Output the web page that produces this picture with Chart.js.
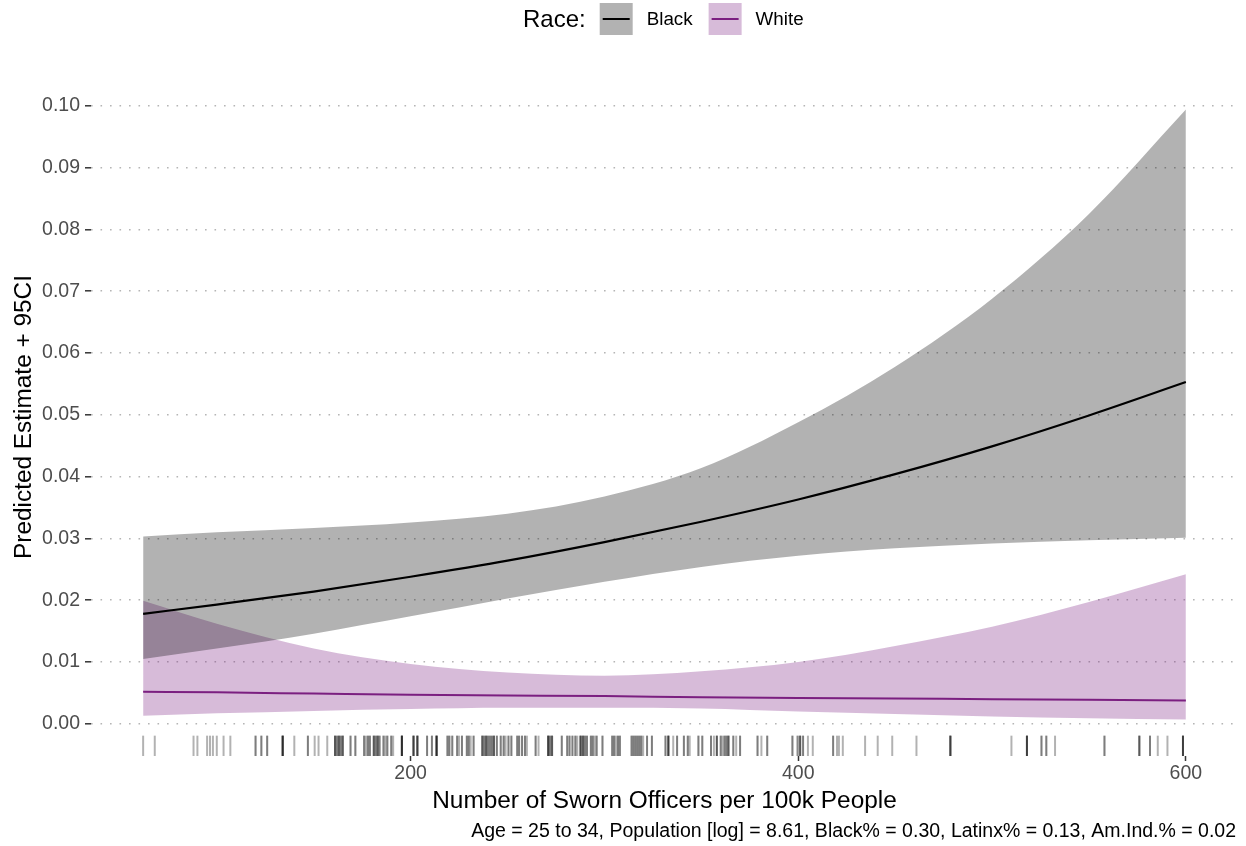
<!DOCTYPE html>
<html>
<head>
<meta charset="utf-8">
<script src="https://cdn.jsdelivr.net/npm/chart.js@4/dist/chart.umd.min.js"></script>
<style>
  html, body { margin: 0; padding: 0; background: #ffffff; }
  #wrap { width: 1246px; height: 846px; }
</style>
</head>
<body>
<div id="wrap"><canvas id="chart" width="1246" height="846"></canvas></div>
<script>
// Predicted estimates with 95% confidence band, by race
const officers = [62, 100, 150, 200, 250, 300, 350, 400, 450, 500, 550, 600];

const blackEstimate = [0.0178, 0.0193, 0.0214, 0.0238, 0.0264, 0.0294, 0.0327, 0.0363, 0.0404, 0.0449, 0.0499, 0.0553];
const blackUpper    = [0.0303, 0.0310, 0.0317, 0.0326, 0.0340, 0.0368, 0.0414, 0.0488, 0.0578, 0.0688, 0.0825, 0.0994];
const blackLower    = [0.0105, 0.0122, 0.0146, 0.0174, 0.0203, 0.0230, 0.0254, 0.0272, 0.0284, 0.0292, 0.0297, 0.0301];

const whiteEstimate = [0.0052, 0.0051, 0.0049, 0.0047, 0.0046, 0.0045, 0.0043, 0.0042, 0.0041, 0.0040, 0.0039, 0.0038];
const whiteUpper    = [0.0199, 0.0162, 0.0122, 0.0097, 0.0083, 0.0078, 0.0085, 0.0100, 0.0126, 0.0157, 0.0197, 0.0242];
const whiteLower    = [0.0013, 0.0017, 0.0021, 0.0024, 0.0026, 0.0026, 0.0025, 0.0020, 0.0016, 0.0012, 0.0009, 0.0007];

// Observed officer rates (rug along the x axis); repeated values stack darker
const observedOfficers = [
  62, 68,
  88, 90, 95, 96.5, 98, 100, 103.5, 107,
  120, 120, 123, 123, 126, 126,
  134, 134, 134, 134, 134,
  140, 147, 147, 150.5, 152.5, 157,
  161, 161, 161, 162, 162, 163, 163, 163, 164, 164, 165, 165, 165,
  169, 169, 171.5, 171.5,
  176, 176, 177, 178, 178, 179, 179,
  181, 181, 181, 182, 182, 183, 183, 183, 184, 184,
  186, 186, 187, 188, 188, 190, 190, 191,
  195.5, 195.5, 195.5, 195.5, 195.5,
  201.5, 201.5, 201.5, 201.5, 203.5, 203.5, 203.5, 203.5,
  208.5, 208.5,
  211, 211, 213.4, 213.4, 213.4, 213.4, 213.4,
  219, 219, 220, 220, 221.5, 221.5, 224, 224, 225, 226.5, 226.5,
  229, 229, 230, 230, 231, 232.5, 232.5,
  237, 237, 237, 238, 238, 239, 239, 239, 240, 240, 241, 241, 242, 242, 243, 243, 243, 244.5, 244.5,
  246.5, 246.5, 248, 248, 249, 250.5, 250.5, 252, 252,
  255, 255, 256, 256, 257.5, 257.5, 259, 259, 260,
  264.5, 264.5, 266,
  271, 271, 271, 271, 272, 272, 273, 273, 273,
  278, 278, 280.8, 280.8, 282, 282, 283.5, 283.5, 285, 285, 286,
  287.5, 287.5, 288, 288, 289, 289, 289, 290, 290, 291, 291,
  293, 293, 294, 294, 295, 296, 296,
  299, 299,
  304, 304, 305, 305, 306, 307, 307, 308, 308,
  314, 314, 315, 315, 316, 316, 317, 317, 318, 318, 319, 319, 320, 322, 322,
  324.5, 324.5,
  331.5, 331.5, 333, 333, 333, 333,
  335.5, 337.5, 337.5,
  341, 341, 343, 343, 344,
  348.5, 348.5, 350.5, 350.5,
  355, 355, 356.5, 358, 358, 358,
  360, 360, 361, 362, 362, 363, 363, 364, 364, 364,
  366.5, 366.5, 368, 370, 370,
  379, 379, 381, 384, 384,
  397, 397, 399.5, 400, 401, 401, 401, 402.5, 402.5,
  405, 407.5,
  418, 418, 420, 421, 423,
  434.5, 441, 448.5, 461, 478.5, 478.5, 478.5, 478.5,
  510, 518, 518, 518, 518, 525.5, 525.5, 528, 528, 532.5,
  558, 558, 576, 576, 576, 581.5, 581.5, 585.5, 590.5, 598.5, 598.5, 598.5, 598.5
];

const raceNames = ['Black', 'White'];
const xTickValues = [200, 400, 600];
const xTickLabels = ['200', '400', '600'];
const yTickValues = [0, 0.01, 0.02, 0.03, 0.04, 0.05, 0.06, 0.07, 0.08, 0.09, 0.10];
const yTickLabels = ['0.00', '0.01', '0.02', '0.03', '0.04', '0.05', '0.06', '0.07', '0.08', '0.09', '0.10'];

const legendTitle = 'Race:';
const xTitle = 'Number of Sworn Officers per 100k People';
const yTitle = 'Predicted Estimate + 95CI';
const captionText = 'Age = 25 to 34, Population [log] = 8.61, Black% = 0.30, Latinx% = 0.13, Am.Ind.% = 0.02';

const BLACK_LINE = '#000000';
const WHITE_LINE = '#7B1F80';
const BLACK_BAND = 'rgba(0, 0, 0, 0.30)';
const WHITE_BAND = 'rgba(123, 31, 128, 0.30)';
const FONT = '"Liberation Sans", Arial, Helvetica, sans-serif';

const pts = (ys) => officers.map((x, i) => ({ x: x, y: ys[i] }));

const bandStyle = {
  borderWidth: 0,
  borderColor: 'rgba(0,0,0,0)',
  pointRadius: 0,
  pointHoverRadius: 0,
  cubicInterpolationMode: 'monotone'
};

// Rug of observed values along the bottom of the plot area
const rugPlugin = {
  id: 'rug',
  beforeDatasetsDraw(chart) {
    const { ctx, chartArea, scales } = chart;
    const len = (chartArea.bottom - chartArea.top) * 0.03;
    ctx.save();
    ctx.strokeStyle = 'rgba(0, 0, 0, 0.30)';
    ctx.lineWidth = 2;
    observedOfficers.forEach((v) => {
      const px = scales.x.getPixelForValue(v);
      ctx.beginPath();
      ctx.moveTo(px, chartArea.bottom);
      ctx.lineTo(px, chartArea.bottom - len);
      ctx.stroke();
    });
    ctx.restore();
  }
};

// Legend row at the top and the caption line at the bottom
const annotatePlugin = {
  id: 'annotate',
  afterDraw(chart) {
    const { ctx } = chart;
    ctx.save();
    ctx.textBaseline = 'middle';
    ctx.textAlign = 'left';
    const cy = 20;
    let x = 523;
    ctx.fillStyle = '#000000';
    ctx.font = '24px ' + FONT;
    ctx.fillText(legendTitle, x, cy);
    x += ctx.measureText(legendTitle).width + 14;

    const keys = [
      { label: raceNames[0], band: BLACK_BAND, line: BLACK_LINE },
      { label: raceNames[1], band: WHITE_BAND, line: WHITE_LINE }
    ];
    keys.forEach((k) => {
      ctx.fillStyle = k.band;
      ctx.fillRect(x, 3, 33, 32);
      ctx.strokeStyle = k.line;
      ctx.lineWidth = 2;
      ctx.beginPath();
      ctx.moveTo(x + 3, 19);
      ctx.lineTo(x + 30, 19);
      ctx.stroke();
      x += 33 + 14;
      ctx.fillStyle = '#000000';
      ctx.font = '18.8px ' + FONT;
      ctx.fillText(k.label, x, cy);
      x += ctx.measureText(k.label).width + 16;
    });

    ctx.textAlign = 'right';
    ctx.font = '19.5px ' + FONT;
    ctx.fillStyle = '#000000';
    ctx.fillText(captionText, 1236, 832);
    ctx.restore();
  }
};

const ctx = document.getElementById('chart').getContext('2d');
new Chart(ctx, {
  type: 'line',
  data: {
    datasets: [
      Object.assign({ label: raceNames[0] + ' CI upper', data: pts(blackUpper), fill: '+1', backgroundColor: BLACK_BAND }, bandStyle),
      Object.assign({ label: raceNames[0] + ' CI lower', data: pts(blackLower), fill: false }, bandStyle),
      Object.assign({ label: raceNames[1] + ' CI upper', data: pts(whiteUpper), fill: '+1', backgroundColor: WHITE_BAND }, bandStyle),
      Object.assign({ label: raceNames[1] + ' CI lower', data: pts(whiteLower), fill: false }, bandStyle),
      {
        label: raceNames[0],
        data: pts(blackEstimate),
        borderColor: BLACK_LINE,
        borderWidth: 2.2,
        pointRadius: 0,
        fill: false,
        cubicInterpolationMode: 'monotone'
      },
      {
        label: raceNames[1],
        data: pts(whiteEstimate),
        borderColor: WHITE_LINE,
        borderWidth: 2,
        pointRadius: 0,
        fill: false,
        cubicInterpolationMode: 'monotone'
      }
    ]
  },
  options: {
    responsive: false,
    animation: false,
    devicePixelRatio: 1,
    layout: { padding: { top: 78, right: 8, bottom: 0, left: 0 } },
    plugins: {
      legend: { display: false },
      title: { display: false },
      tooltip: { enabled: false },
      filler: { drawTime: 'beforeDatasetsDraw' }
    },
    scales: {
      x: {
        type: 'linear',
        min: 35.1,
        max: 626.9,
        afterBuildTicks: (scale) => { scale.ticks = xTickValues.map((v) => ({ value: v })); },
        afterFit: (scale) => { scale.height = 90; },
        ticks: {
          autoSkip: false,
          maxRotation: 0,
          padding: 1,
          color: '#4d4d4d',
          font: { family: FONT, size: 19.5 },
          callback: (v, i) => xTickLabels[i]
        },
        grid: {
          drawOnChartArea: false,
          drawTicks: true,
          tickLength: 5,
          tickColor: '#333333',
          tickWidth: 1.5
        },
        border: { display: false },
        title: {
          display: true,
          text: xTitle,
          color: '#000000',
          font: { family: FONT, size: 24.4 },
          padding: { top: 0, bottom: 30 }
        }
      },
      y: {
        type: 'linear',
        min: -0.0052,
        max: 0.1045,
        afterBuildTicks: (scale) => { scale.ticks = yTickValues.map((v) => ({ value: v })); },
        afterFit: (scale) => { scale.width = 91; },
        ticks: {
          padding: 5,
          color: '#4d4d4d',
          font: { family: FONT, size: 19.5 },
          callback: (v, i) => yTickLabels[i]
        },
        grid: {
          drawOnChartArea: true,
          color: '#b5b5b5',
          lineWidth: 1.6,
          drawTicks: true,
          tickLength: 6,
          tickColor: '#333333',
          tickWidth: 1.5
        },
        border: { display: false, dash: [1.6, 7.9] },
        title: {
          display: true,
          text: yTitle,
          color: '#000000',
          font: { family: FONT, size: 24.4 },
          padding: { top: 10, bottom: 0 }
        }
      }
    }
  },
  plugins: [rugPlugin, annotatePlugin]
});
</script>
</body>
</html>
